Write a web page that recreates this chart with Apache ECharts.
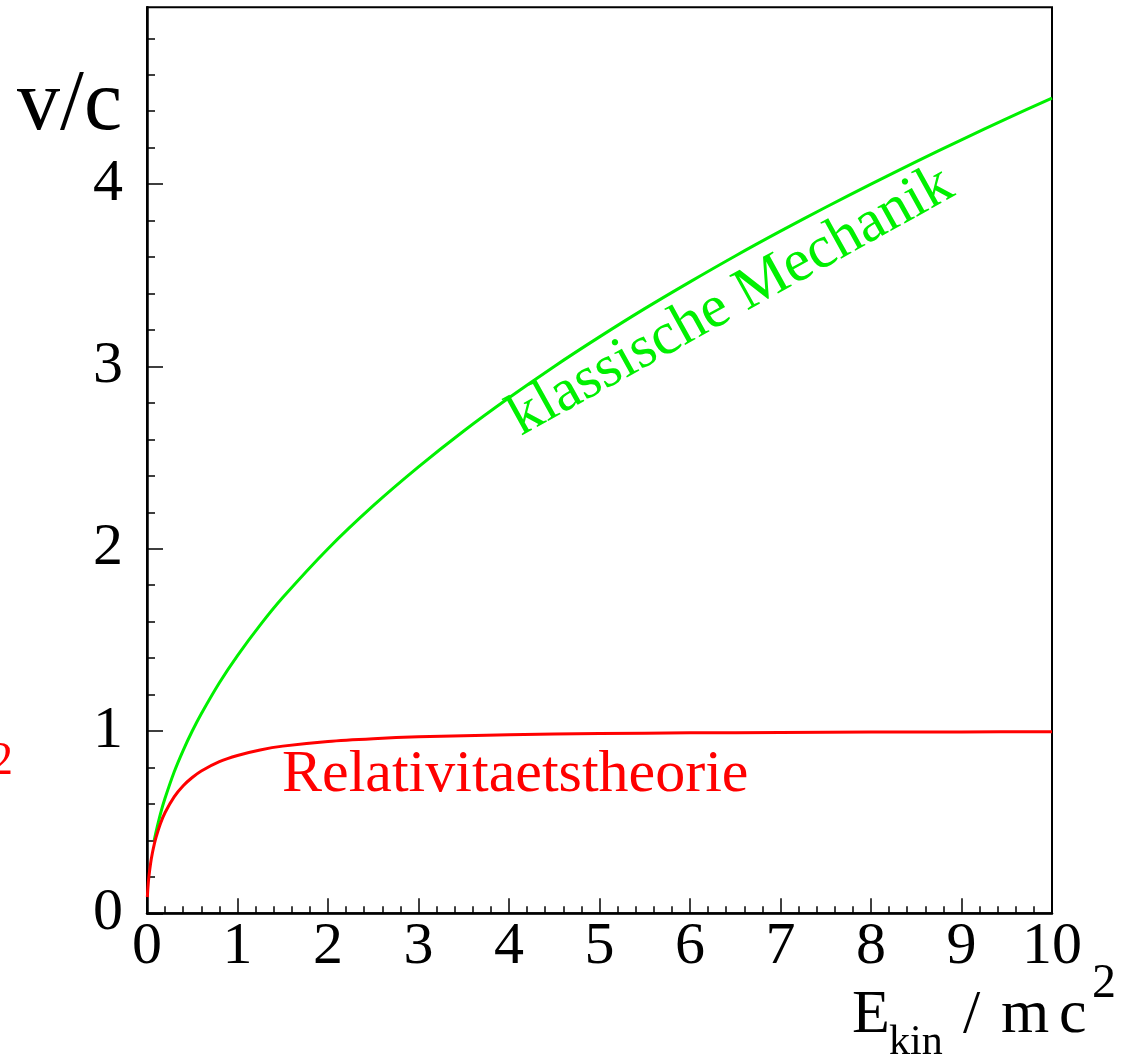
<!DOCTYPE html>
<html>
<head>
<meta charset="utf-8">
<script src="https://cdn.jsdelivr.net/npm/echarts@6/dist/echarts.min.js"></script>
<style>
html,body{margin:0;padding:0;background:#fff;}
#chart{width:1133px;height:1058px;}
</style>
</head>
<body>
<div id="chart"></div>
<script>
// Kinetic energy (in units of m c^2)
var energyClassic = [0.08, 0.1, 0.15, 0.2, 0.3, 0.4, 0.5, 0.6, 0.8, 1, 1.25, 1.5, 2, 2.5, 3, 3.5, 4, 4.5, 5, 5.5, 6, 6.5, 7, 7.5, 8, 8.5, 9, 9.5, 10];
var velocityClassic = [0.400, 0.447, 0.548, 0.632, 0.775, 0.894, 1.000, 1.095, 1.265, 1.414, 1.581, 1.732, 2.000, 2.236, 2.449, 2.646, 2.828, 3.000, 3.162, 3.317, 3.464, 3.606, 3.742, 3.873, 4.000, 4.123, 4.243, 4.359, 4.472];
var energyRelativ = [0.004, 0.01, 0.02, 0.04, 0.06, 0.08, 0.1, 0.15, 0.2, 0.3, 0.4, 0.5, 0.6, 0.8, 1, 1.25, 1.5, 2, 2.5, 3, 4, 5, 6, 7, 8, 9, 10];
var velocityRelativ = [0.089, 0.140, 0.197, 0.275, 0.332, 0.378, 0.417, 0.494, 0.553, 0.639, 0.700, 0.745, 0.781, 0.832, 0.866, 0.896, 0.917, 0.943, 0.958, 0.968, 0.980, 0.986, 0.990, 0.992, 0.994, 0.995, 0.996];
var xTickLabels = [0, 1, 2, 3, 4, 5, 6, 7, 8, 9, 10];
var yTickLabels = [0, 1, 2, 3, 4];
var yMinorTicks = [0.2, 0.4, 0.6, 0.8, 1.2, 1.4, 1.6, 1.8, 2.2, 2.4, 2.6, 2.8, 3.2, 3.4, 3.6, 3.8, 4.2, 4.4, 4.6, 4.8];
var xRange = [0, 10];
var yRange = [0, 4.97];

function pairs(xs, ys) {
  var out = [];
  for (var i = 0; i < xs.length; i++) out.push([xs[i], ys[i]]);
  return out;
}

var SERIF = '"Liberation Serif", "DejaVu Serif", serif';
var chart = echarts.init(document.getElementById('chart'), null, {renderer: 'canvas'});

function fontStr(size) { return size + 'px ' + SERIF; }
// place text with its baseline at y (zrender draws with middle baseline)
function baseY(y, size) { return y - 0.3375 * size; }

var option = {
  animation: false,
  backgroundColor: '#ffffff',
  grid: {
    left: 147, right: 81, top: 7.3, bottom: 144.7,
    show: true, borderColor: '#000', borderWidth: 2, backgroundColor: 'transparent'
  },
  xAxis: {
    type: 'value', min: xRange[0], max: xRange[1], interval: 1,
    axisLine: {show: true, onZero: false, lineStyle: {color: '#000', width: 2.5}},
    axisTick: {show: true, inside: true, length: 15, lineStyle: {color: '#000', width: 1.5}},
    minorTick: {show: true, splitNumber: 5, length: 7, lineStyle: {color: '#000', width: 1.5}},
    axisLabel: {
      show: true, margin: 4, color: '#000', fontFamily: SERIF, fontSize: 60,
      customValues: xTickLabels,
      formatter: function (v) { return String(v); }
    },
    splitLine: {show: false},
    minorSplitLine: {show: false}
  },
  yAxis: [{
    type: 'value', min: yRange[0], max: yRange[1], interval: 1, position: 'left',
    axisLine: {show: true, onZero: false, lineStyle: {color: '#000', width: 2.5}},
    axisTick: {show: true, inside: true, length: 16, customValues: yTickLabels, lineStyle: {color: '#000', width: 1.5}},
    minorTick: {show: false},
    axisLabel: {
      show: true, margin: 24, color: '#000', fontFamily: SERIF, fontSize: 60,
      customValues: yTickLabels,
      formatter: function (v) { return String(v); }
    },
    splitLine: {show: false}
  }, {
    type: 'value', min: yRange[0], max: yRange[1], interval: 1, position: 'left', offset: 0,
    axisLine: {show: false},
    axisTick: {show: true, inside: true, length: 8, customValues: yMinorTicks, lineStyle: {color: '#000', width: 1.5}},
    axisLabel: {show: false},
    splitLine: {show: false}
  }],
  series: [{
    name: 'klassische Mechanik', type: 'line', data: pairs(energyClassic, velocityClassic),
    showSymbol: false, symbol: 'none', smooth: 0.3,
    lineStyle: {color: '#00f000', width: 3}, z: 3
  }, {
    name: 'Relativitaetstheorie', type: 'line', data: pairs(energyRelativ, velocityRelativ),
    showSymbol: false, symbol: 'none', smooth: 0.3,
    lineStyle: {color: '#ff0000', width: 3}, z: 4
  }],
  graphic: [
    // y-axis title
    {type: 'text', x: 17, y: baseY(135, 86), style: {text: 'v/c', font: fontStr(86), fill: '#000', align: 'left', verticalAlign: 'middle'}},
    // x-axis title pieces
    {type: 'text', x: 852, y: baseY(1037, 62), style: {text: 'E', font: fontStr(62), fill: '#000', align: 'left', verticalAlign: 'middle'}},
    {type: 'text', x: 889, y: baseY(1057, 42), style: {text: 'kin', font: fontStr(42), fill: '#000', align: 'left', verticalAlign: 'middle'}},
    {type: 'text', x: 963, y: baseY(1037, 62), style: {text: '/', font: fontStr(62), fill: '#000', align: 'left', verticalAlign: 'middle'}},
    {type: 'text', x: 1001, y: baseY(1037, 62), style: {text: 'm', font: fontStr(62), fill: '#000', align: 'left', verticalAlign: 'middle'}},
    {type: 'text', x: 1059, y: baseY(1037, 62), style: {text: 'c', font: fontStr(62), fill: '#000', align: 'left', verticalAlign: 'middle'}},
    {type: 'text', x: 1092, y: baseY(1001, 48), style: {text: '2', font: fontStr(48), fill: '#000', align: 'left', verticalAlign: 'middle'}},
    // curve annotations
    {type: 'text', x: 282, y: baseY(795, 60), style: {text: 'Relativitaetstheorie', font: fontStr(60), fill: '#ff0000', align: 'left', verticalAlign: 'middle'}},
    {type: 'text', x: 523, y: 440, rotation: 29 * Math.PI / 180,
      style: {x: 0, y: -0.3375 * 60, text: 'klassische Mechanik', font: fontStr(60), fill: '#00f000', align: 'left', verticalAlign: 'middle'}},
    // clipped red fragment at left edge
    {type: 'text', x: 13, y: baseY(777, 46), style: {text: '2', font: fontStr(46), fill: '#ff0000', align: 'right', verticalAlign: 'middle'}}
  ]
};
chart.setOption(option);
</script>
</body>
</html>
